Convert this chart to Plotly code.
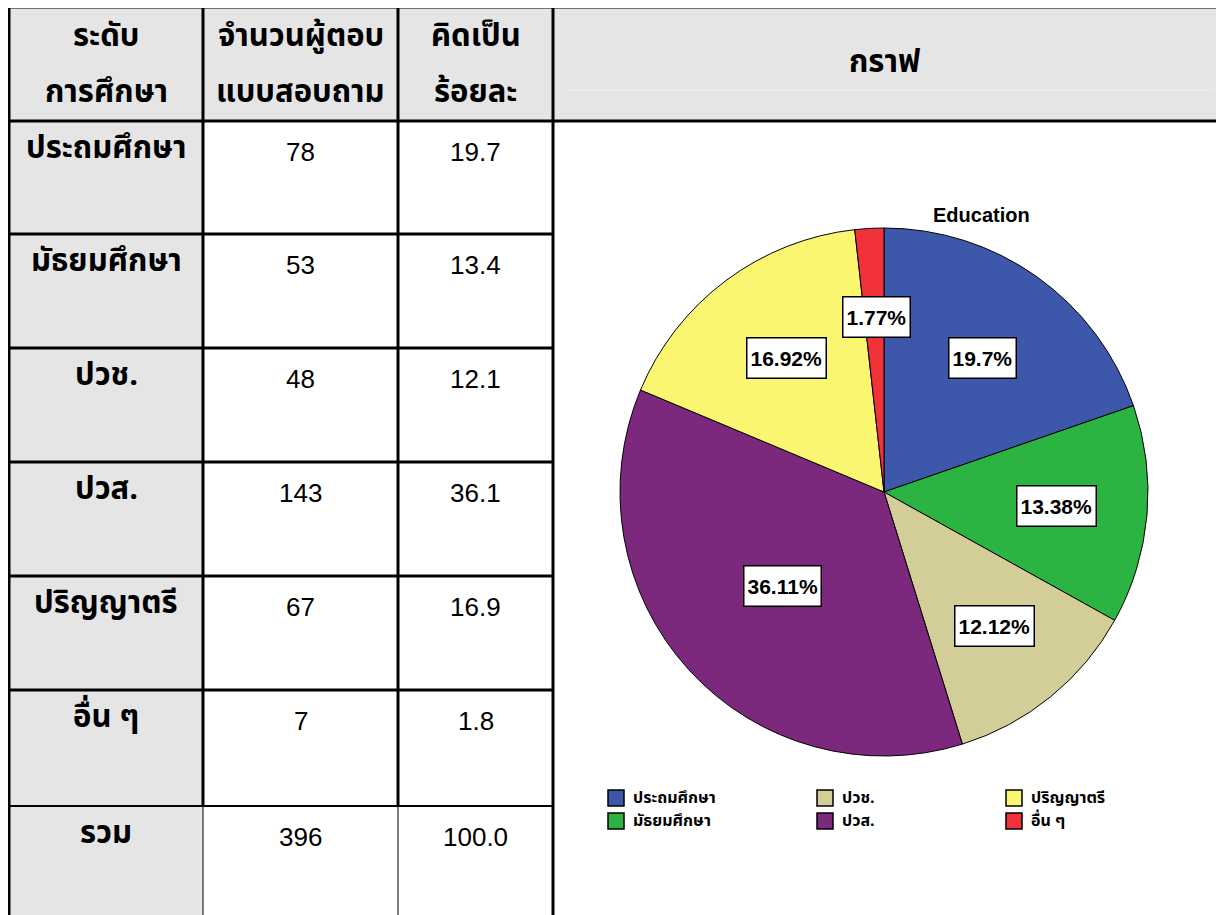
import plotly.graph_objects as go

# ---------------- data ----------------
levels = ["ประถมศึกษา", "มัธยมศึกษา", "ปวช.", "ปวส.", "ปริญญาตรี", "อื่น ๆ"]
counts = [78, 53, 48, 143, 67, 7]
percent_table = ["19.7", "13.4", "12.1", "36.1", "16.9", "1.8"]
total_label = "รวม"
total_count = "396"
total_percent = "100.0"
header_lines = [["ระดับ", "การศึกษา"], ["จำนวนผู้ตอบ", "แบบสอบถาม"], ["คิดเป็น", "ร้อยละ"]]
graph_header = "กราฟ"
pie_labels_text = ["19.7%", "13.38%", "12.12%", "36.11%", "16.92%", "1.77%"]
pie_title = "Education"
colors = ["#3D58AB", "#2CB443", "#D3CE97", "#7B287D", "#FAF672", "#F2323A"]

# page body has an 8px margin; compensate so reference pixel coords line up
OFF = 8
W, H = 1216, 907
def px(x):
    return (x - OFF) / W
def py(y):
    return 1 - (y - OFF) / H

THAI = "Tahoma, 'Noto Sans Thai', 'Noto Sans', sans-serif"
ARIAL = "Arial, 'Liberation Sans', sans-serif"

fig = go.Figure()

# pie
cx, cy, r = 884, 492, 264
fig.add_trace(go.Pie(
    labels=levels, values=counts, sort=False, direction="clockwise", rotation=0,
    marker=dict(colors=colors, line=dict(color="black", width=1)),
    textinfo="none", hoverinfo="label+value+percent", showlegend=False,
    domain=dict(x=[px(cx - r), px(cx + r)], y=[py(cy + r), py(cy - r)]),
))

shapes = []
annotations = []

col_x = [9, 203, 398, 553, 1240]
top, head_bot = 7, 121
row_tops = [121, 234, 348, 462, 576, 690, 806]
bottom = 925

shapes.append(dict(type="rect", xref="paper", yref="paper", x0=px(col_x[0]), x1=px(1240),
                   y0=py(top), y1=py(head_bot), fillcolor="#E5E5E5", line=dict(width=0), layer="below"))
shapes.append(dict(type="rect", xref="paper", yref="paper", x0=px(col_x[0]), x1=px(col_x[1]),
                   y0=py(head_bot), y1=py(bottom), fillcolor="#E5E5E5", line=dict(width=0), layer="below"))

def line(x0, y0, x1, y1, w=3, color="black"):
    shapes.append(dict(type="line", xref="paper", yref="paper", x0=px(x0), y0=py(y0),
                       x1=px(x1), y1=py(y1), line=dict(color=color, width=w)))

line(565, 90, 1213, 90, w=1, color="#F0F0F0")
line(col_x[0] - 1, top, 1240, top)
line(col_x[0] - 1, head_bot, 1240, head_bot)
for yt in row_tops[1:-1]:
    line(col_x[0] - 1, yt, col_x[3], yt)
line(col_x[0] - 1, row_tops[-1], col_x[3], row_tops[-1], w=2)
line(col_x[0], top, col_x[0], bottom)
line(col_x[3], top, col_x[3], bottom)
for xc in col_x[1:3]:
    line(xc, top, xc, row_tops[-1])
    line(xc, row_tops[-1], xc, bottom, w=1)

def text(x, y, t, family, size, xanchor="center", bold=True):
    annotations.append(dict(xref="paper", yref="paper", x=px(x), y=py(y),
                            text=("<b>" + t + "</b>") if bold else t, showarrow=False,
                            xanchor=xanchor, yanchor="middle",
                            font=dict(family=family, size=size, color="black")))

THAI_SIZE = 31
for i, (l1, l2) in enumerate(header_lines):
    xc = (col_x[i] + col_x[i + 1]) / 2
    text(xc, 36, l1, THAI, THAI_SIZE)
    text(xc, 92, l2, THAI, THAI_SIZE)
text(885, 62, graph_header, THAI, THAI_SIZE)

rows = list(zip(levels, [str(c) for c in counts], percent_table)) + [(total_label, total_count, total_percent)]
for i, (lab, n, p) in enumerate(rows):
    yt = row_tops[i]
    text((col_x[0] + col_x[1]) / 2, yt + 27, lab, THAI, THAI_SIZE)
    for j, v in enumerate([n, p]):
        text((col_x[j + 1] + col_x[j + 2]) / 2, yt + 31, v, ARIAL, 26, bold=False)

text(981, 215, pie_title, ARIAL, 20)

label_pos = [(982, 358), (1056, 506), (994, 626), (782, 586), (786, 358), (876, 317)]
for t, (lx, ly) in zip(pie_labels_text, label_pos):
    annotations.append(dict(xref="paper", yref="paper", x=px(lx), y=py(ly), text="<b>" + t + "</b>",
                            showarrow=False, xanchor="center", yanchor="middle",
                            bgcolor="white", bordercolor="black", borderwidth=1.5, borderpad=3,
                            height=33,
                            font=dict(family=ARIAL, size=21, color="black")))

leg_x = [608, 817, 1006]
leg_y = [798, 821]
for k, (lab, c) in enumerate(zip(levels, colors)):
    col, row = k // 2, k % 2
    x0, yc = leg_x[col], leg_y[row]
    shapes.append(dict(type="rect", xref="paper", yref="paper", x0=px(x0), x1=px(x0 + 16),
                       y0=py(yc - 8), y1=py(yc + 8), fillcolor=c, line=dict(color="black", width=1.5)))
    text(x0 + 23, yc, lab, THAI, 16, xanchor="left")

fig.update_layout(
    width=W, height=H, margin=dict(l=0, r=0, t=0, b=0),
    paper_bgcolor="white", plot_bgcolor="white",
    shapes=shapes, annotations=annotations, showlegend=False,
)

fig.write_html("out.html")
